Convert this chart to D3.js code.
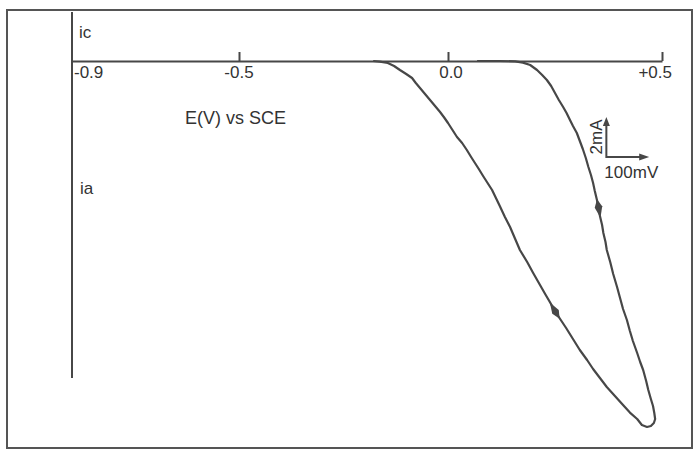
<!DOCTYPE html>
<html>
<head>
<meta charset="utf-8">
<script src="https://cdn.jsdelivr.net/npm/d3@7"></script>
<style>
  html, body { margin: 0; padding: 0; background: #fff; }
  svg text { font-family: "Liberation Sans", Arial, sans-serif; fill: #333; }
</style>
</head>
<body>
<div id="chart"></div>
<script>
// potential (V vs SCE) and current (mA, cathodic +, anodic -) in scan order
var scanE = [
    0.068, 0.121, 0.157, 0.175, 0.192, 0.208, 0.220, 0.231, 0.241, 0.250,
    0.259, 0.269, 0.277, 0.285, 0.292, 0.301, 0.308, 0.315, 0.322, 0.328,
    0.334, 0.339, 0.343, 0.348, 0.352, 0.355, 0.360, 0.363, 0.368, 0.371,
    0.379, 0.386, 0.395, 0.402, 0.409, 0.418, 0.425, 0.432, 0.442, 0.449,
    0.456, 0.463, 0.468, 0.474, 0.479, 0.482, 0.484, 0.481, 0.474, 0.465,
    0.453, 0.442, 0.425, 0.409, 0.390, 0.371, 0.355, 0.339, 0.325, 0.308,
    0.292, 0.276, 0.262, 0.250, 0.238, 0.227, 0.215, 0.199, 0.185, 0.168,
    0.157, 0.145, 0.133, 0.121, 0.112, 0.103, 0.091, 0.082, 0.072, 0.063,
    0.054, 0.044, 0.033, 0.021, 0.009, 0.000, -0.010, -0.019, -0.031, -0.043,
    -0.055, -0.067, -0.077, -0.086, -0.100, -0.115, -0.129, -0.144, -0.163, -0.179
];
var scanI = [
    0, 0, -0.02, -0.08, -0.2, -0.45, -0.7, -0.95, -1.25, -1.6,
    -1.95, -2.3, -2.6, -2.95, -3.25, -3.6, -4.0, -4.4, -4.85, -5.3,
    -5.7, -6.1, -6.5, -6.95, -7.35, -7.75, -8.2, -8.6, -9.05, -9.45,
    -10.05, -10.65, -11.3, -11.85, -12.4, -12.95, -13.5, -14.0, -14.6, -15.05,
    -15.45, -16.0, -16.45, -16.9, -17.25, -17.6, -17.9, -18.1, -18.25, -18.3,
    -18.2, -17.9, -17.58, -17.2, -16.75, -16.3, -15.85, -15.4, -14.95, -14.45,
    -13.9, -13.35, -12.9, -12.5, -12.05, -11.65, -11.2, -10.6, -10.05, -9.45,
    -8.9, -8.3, -7.8, -7.25, -6.85, -6.45, -6.05, -5.75, -5.4, -5.1,
    -4.8, -4.45, -4.1, -3.8, -3.4, -3.1, -2.8, -2.55, -2.25, -1.95,
    -1.65, -1.35, -1.1, -0.85, -0.65, -0.45, -0.25, -0.1, -0.03, 0
];
// scan direction arrows (indices into the scan)
var arrowAt = [24, 63];

var tickValues = [-0.9, -0.5, 0, 0.5];
var tickLabels = ['-0.9', '-0.5', '0.0', '+0.5'];
var axisTitle = 'E(V) vs SCE';
var cathodicLabel = 'ic';
var anodicLabel = 'ia';

// scale bar: origin and lengths
var barOrigin = { E: 0.370, i: -4.8 };
var barCurrent = 2;    // mA
var barPotential = 0.1; // V
var barLabels = ['2mA', '100mV'];

var width = 694,
    height = 449,
    ink = '#474747';

var svg = d3.select('#chart').append('svg')
    .attr('width', width)
    .attr('height', height);

var x = d3.scaleLinear()
    .domain(tickValues)
    .range([72, 239, 448, 662]);

var y = d3.scaleLinear()
    .domain([0, -18])
    .range([61, 421]);

// frame
svg.append('rect')
    .attr('x', 7).attr('y', 10)
    .attr('width', 685).attr('height', 438)
    .attr('fill', 'none')
    .attr('stroke', '#555')
    .attr('stroke-width', 2);

// vertical current axis
svg.append('line')
    .attr('x1', x(-0.9)).attr('x2', x(-0.9))
    .attr('y1', 12).attr('y2', 378)
    .attr('stroke', ink)
    .attr('stroke-width', 2);

// potential axis, ticks pointing up
var axisG = svg.append('g')
    .attr('transform', 'translate(0,' + y(0) + ')')
    .call(d3.axisTop(x).tickValues(tickValues.slice(1)).tickSize(9).tickSizeOuter(0).tickFormat(''));

axisG.select('.domain').attr('stroke', ink).attr('stroke-width', 2);
axisG.selectAll('.tick line').attr('stroke', ink).attr('stroke-width', 2);

svg.selectAll('text.tickLabel')
    .data(tickValues)
    .enter().append('text')
    .attr('class', 'tickLabel')
    .attr('x', function (d, k) {
        if (k === 0) return x(d) + 2;
        if (k === tickValues.length - 1) return x(d) + 10;
        return x(d) + (d === 0 ? 3 : 0);
    })
    .attr('y', y(0) + 17)
    .attr('text-anchor', function (d, k) {
        return k === 0 ? 'start' : (k === tickValues.length - 1 ? 'end' : 'middle');
    })
    .style('font-size', '17px')
    .text(function (d, k) { return tickLabels[k]; });

svg.append('text')
    .attr('x', 185).attr('y', 124)
    .style('font-size', '18px')
    .text(axisTitle);

svg.append('text')
    .attr('x', x(-0.9) + 7).attr('y', 38)
    .style('font-size', '17px')
    .text(cathodicLabel);

svg.append('text')
    .attr('x', x(-0.9) + 8).attr('y', 194)
    .style('font-size', '17px')
    .text(anodicLabel);

// voltammogram
var line = d3.line()
    .x(function (d) { return x(d[0]); })
    .y(function (d) { return y(d[1]); })
    .curve(d3.curveLinear);

var points = d3.zip(scanE, scanI);

svg.append('path')
    .datum(points)
    .attr('d', line)
    .attr('fill', 'none')
    .attr('stroke', ink)
    .attr('stroke-width', 2.2)
    .attr('stroke-linejoin', 'round');

// direction arrows along the scan
svg.selectAll('path.scanArrow')
    .data(arrowAt)
    .enter().append('path')
    .attr('class', 'scanArrow')
    .attr('d', 'M10,0 L-1,-3.8 L-9,0 L-1,3.8 Z')
    .attr('fill', ink)
    .attr('transform', function (k) {
        var a = points[k - 1], b = points[k + 1],
            ang = Math.atan2(y(b[1]) - y(a[1]), x(b[0]) - x(a[0])) * 180 / Math.PI;
        return 'translate(' + x(points[k][0]) + ',' + y(points[k][1]) + ') rotate(' + ang + ')';
    });

// scale bar
var bx = x(barOrigin.E), by = y(barOrigin.i),
    tx = x(barOrigin.E + barPotential), ty = y(barOrigin.i + barCurrent);

svg.append('path')
    .attr('d', 'M' + bx + ',' + (ty + 6) + ' L' + bx + ',' + by + ' L' + (tx - 6) + ',' + by)
    .attr('fill', 'none')
    .attr('stroke', ink)
    .attr('stroke-width', 2);

svg.append('path')
    .attr('d', 'M' + bx + ',' + ty + ' L' + (bx - 3.5) + ',' + (ty + 9) + ' L' + (bx + 3.5) + ',' + (ty + 9) + ' Z')
    .attr('fill', ink);

svg.append('path')
    .attr('d', 'M' + tx + ',' + by + ' L' + (tx - 10) + ',' + (by - 3.5) + ' L' + (tx - 10) + ',' + (by + 3.5) + ' Z')
    .attr('fill', ink);

svg.append('text')
    .attr('transform', 'translate(' + (bx - 4) + ',' + ((by + ty) / 2) + ') rotate(-90)')
    .attr('text-anchor', 'middle')
    .style('font-size', '17px')
    .text(barLabels[0]);

svg.append('text')
    .attr('x', bx - 2).attr('y', by + 21)
    .style('font-size', '17px')
    .text(barLabels[1]);
</script>
</body>
</html>
